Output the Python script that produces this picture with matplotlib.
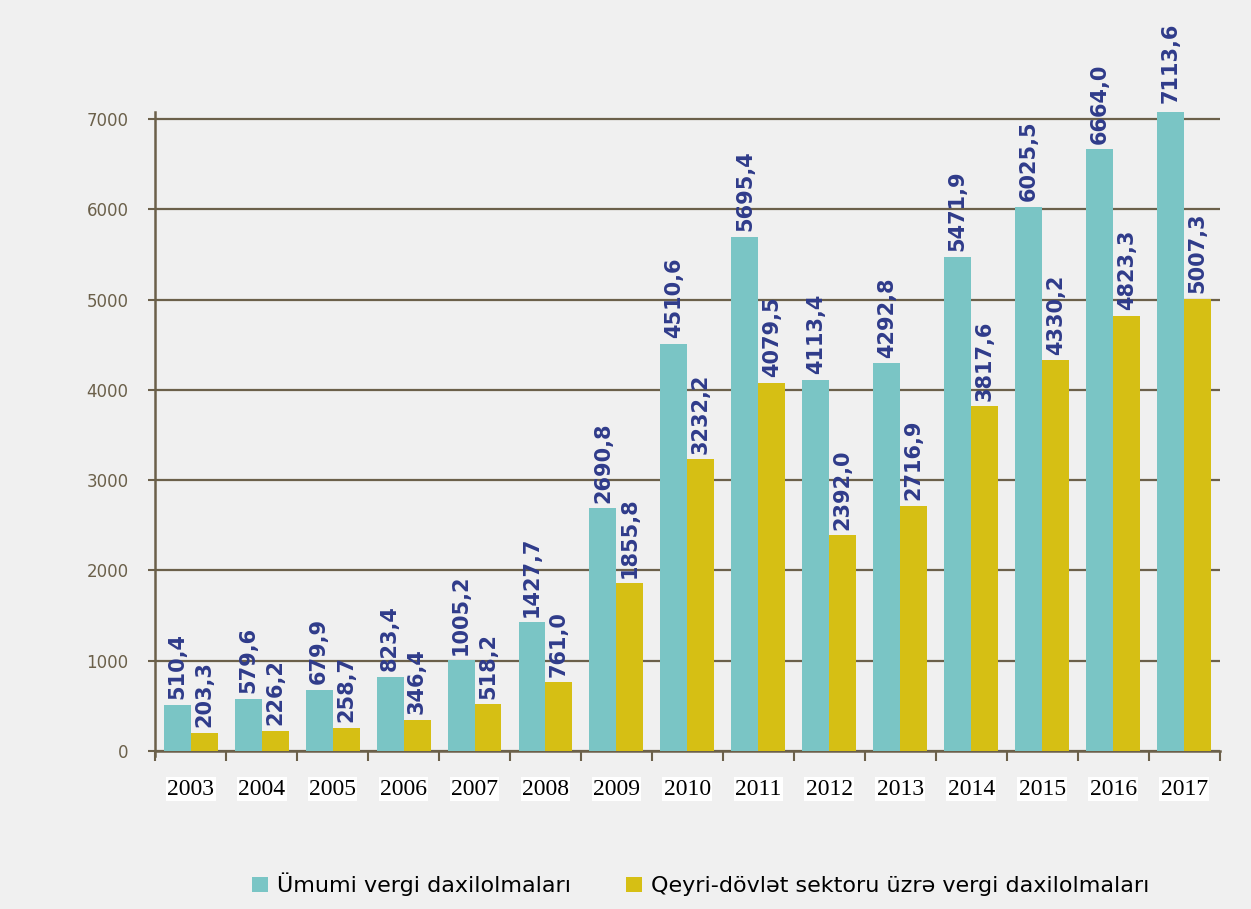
import numpy as np
import matplotlib.pyplot as plt

years = ['2003', '2004', '2005', '2006', '2007', '2008', '2009', '2010',
         '2011', '2012', '2013', '2014', '2015', '2016', '2017']
umumi = [510.4, 579.6, 679.9, 823.4, 1005.2, 1427.7, 2690.8, 4510.6,
         5695.4, 4113.4, 4292.8, 5471.9, 6025.5, 6664.0, 7113.6]
qeyri = [203.3, 226.2, 258.7, 346.4, 518.2, 761.0, 1855.8, 3232.2,
         4079.5, 2392.0, 2716.9, 3817.6, 4330.2, 4823.3, 5007.3]

BG = '#f0f0f0'
TEAL = '#7ac5c5'
YELLOW = '#d6bf14'
AXC = '#6b604a'
NAVY = '#2f3b8a'

fig = plt.figure(figsize=(12.51, 9.09), dpi=100, facecolor=BG)
ax = fig.add_axes([0.124, 0.1738, 0.851, 0.703], facecolor=BG)

x = np.arange(len(years))
w = 0.38
b1 = ax.bar(x - w / 2, umumi, w, color=TEAL, label='Ümumi vergi daxilolmaları', zorder=3)
b2 = ax.bar(x + w / 2, qeyri, w, color=YELLOW,
            label='Qeyri-dövlət sektoru üzrə vergi daxilolmaları', zorder=3)

for bars, vals in ((b1, umumi), (b2, qeyri)):
    for r, v in zip(bars, vals):
        ax.annotate(f'{v:.1f}'.replace('.', ','),
                    (r.get_x() + r.get_width() / 2, r.get_height()),
                    xytext=(0, 4), textcoords='offset points',
                    rotation=90, ha='center', va='bottom',
                    fontsize=15, fontweight='bold', color=NAVY,
                    annotation_clip=False, zorder=4)

ax.set_xlim(-0.5, len(years) - 0.5)
ax.set_ylim(0, 7078)
ax.set_yticks(range(0, 8000, 1000))
ax.yaxis.grid(True, color=AXC, linewidth=1.6, zorder=1)
ax.tick_params(axis='y', length=5, width=1.5, color=AXC, labelcolor=AXC,
               labelsize=12, pad=14)

# boundaries as major ticks, year labels on minor ticks
ax.set_xticks(np.arange(-0.5, len(years), 1.0))
ax.set_xticklabels([])
ax.set_xticks(x, minor=True)
ax.set_xticklabels(years, minor=True, family='Liberation Serif', fontsize=17,
                   color='black')
ax.tick_params(axis='x', which='major', length=7, width=1.5, color=AXC, direction='out')
ax.tick_params(axis='x', which='minor', length=0, pad=20)
for lbl in ax.get_xticklabels(minor=True):
    lbl.set_bbox(dict(facecolor='white', edgecolor='none', pad=1))

for s in ('top', 'right'):
    ax.spines[s].set_visible(False)
for s in ('left', 'bottom'):
    ax.spines[s].set_color(AXC)
    ax.spines[s].set_linewidth(1.8)
ax.spines['left'].set_bounds(-60, 7078)

fig.legend(loc='center', bbox_to_anchor=(0.56, 0.027), ncol=2, frameon=False,
           fontsize=16, handlelength=0.7, handleheight=0.7, handletextpad=0.4,
           columnspacing=2.5)

plt.savefig('out.png', dpi=100, facecolor=BG)
